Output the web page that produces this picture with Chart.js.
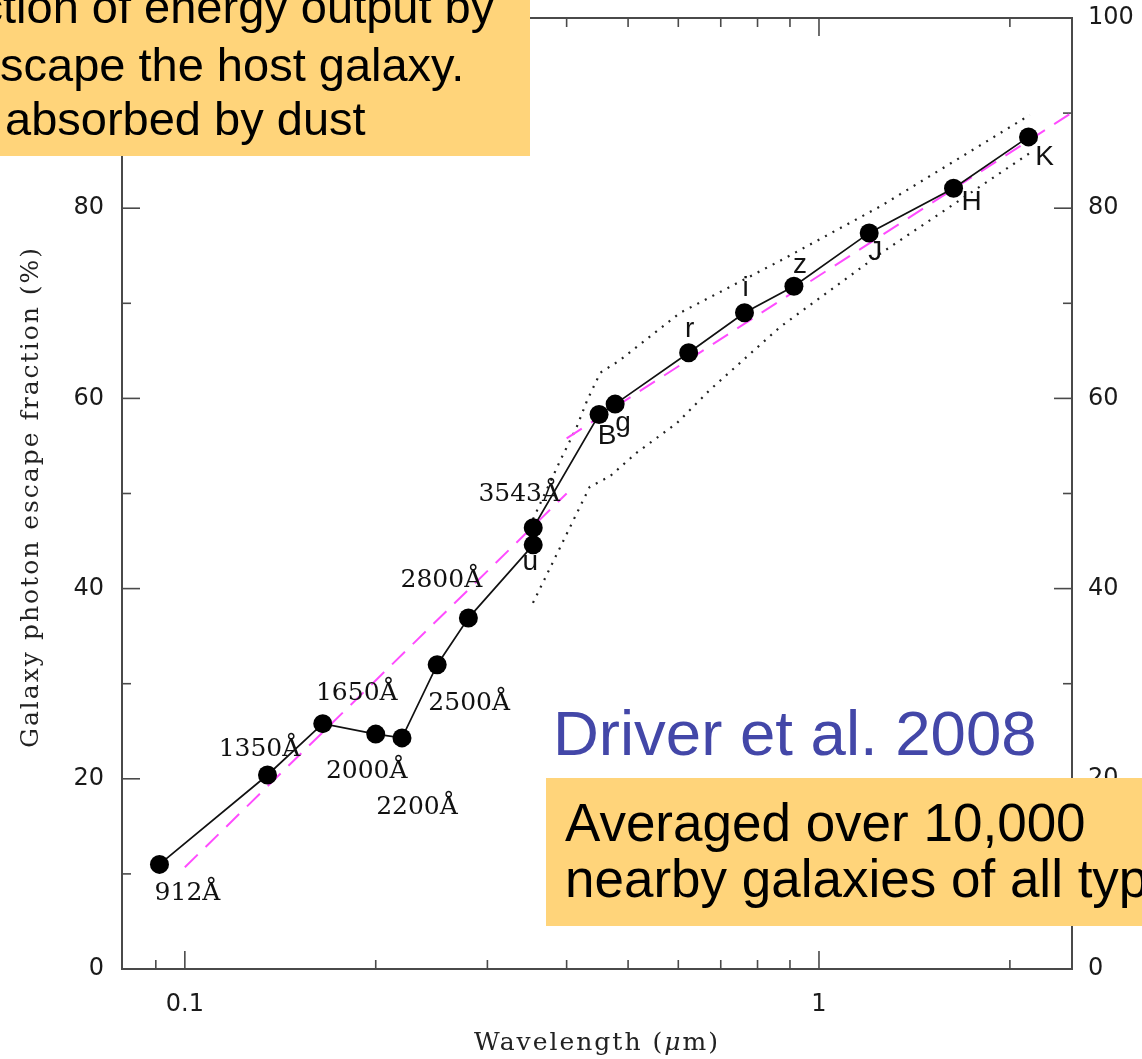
<!DOCTYPE html>
<html>
<head>
<meta charset="utf-8">
<script src="https://cdn.jsdelivr.net/npm/chart.js@4.4.0/dist/chart.umd.min.js"></script>
<style>
  html, body { margin: 0; padding: 0; background: #fff; }
  canvas { display: block; }
</style>
</head>
<body>
<canvas id="escape" width="1142" height="1059"></canvas>
<script>
// measured points: wavelength (micron) and escape fraction (%)
const wavelengths = [0.0912, 0.135, 0.165, 0.200, 0.220, 0.250, 0.280, 0.3543, 0.3543, 0.450, 0.477, 0.623, 0.763, 0.913, 1.20, 1.63, 2.14];
const escapeFraction = [11.0, 20.4, 25.8, 24.7, 24.3, 32.0, 36.9, 44.6, 46.4, 58.3, 59.4, 64.8, 69.0, 71.8, 77.4, 82.1, 87.5];
const pointLabels = ['912Å', '1350Å', '1650Å', '2000Å', '2200Å', '2500Å', '2800Å', 'u', '3543Å', 'B', 'g', 'r', 'i', 'z', 'J', 'H', 'K'];

// magenta dashed model, UV piece and optical/NIR piece
const modelUvX = [0.1, 0.4];
const modelUvY = [10.7, 50.0];
const modelOptX = [0.4, 2.5];
const modelOptY = [55.8, 90.0];

// dotted envelope
const upperX = [0.354, 0.391, 0.415, 0.431, 0.452, 0.485, 0.604, 0.87, 1.25, 2.15];
const upperY = [47.3, 53.5, 57.0, 59.8, 62.7, 64.0, 69.0, 74.5, 80.2, 89.8];
const lowerX = [0.354, 0.435, 0.468, 0.516, 0.597, 0.673, 0.868, 1.248, 2.15];
const lowerY = [38.5, 50.7, 51.8, 54.3, 57.4, 60.9, 67.5, 75.2, 85.8];

// axis ticks
const xTicksMajor = [0.1, 1];
const xTicksMinor = [0.09, 0.2, 0.3, 0.4, 0.5, 0.6, 0.7, 0.8, 0.9, 2];
const yTicksMajor = [0, 20, 40, 60, 80, 100];
const yTicksMinor = [10, 30, 50, 70, 90];

// label offsets from each point (px), kept apart from the data
const labelOffsets = [[28, 29], [-8, -25], [34, -30], [-9, 37], [15, 70], [32, 39], [-27, -38], [-3, 17],
  [-14, -33], [8, 22], [8, 19], [1, -23], [1, -25], [6, -21], [6, 19], [18, 14], [16, 20]];

const pts = (xs, ys) => xs.map((x, i) => ({ x: x, y: ys[i] }));

const SERIF = '"DejaVu Serif", serif';
const SANS = '"Liberation Sans", Arial, sans-serif';
const TICKFONT = '"DejaVu Sans", sans-serif';

// box, inward ticks and axis titles
const framePlugin = {
  id: 'frame',
  beforeDatasetsDraw(chart) {
    const { ctx, chartArea: a, scales: { x, y } } = chart;
    ctx.save();
    ctx.strokeStyle = '#4a4a4a';
    ctx.lineWidth = 2;
    ctx.strokeRect(a.left, a.top, a.right - a.left, a.bottom - a.top);
    ctx.lineWidth = 1.6;
    const seg = (x1, y1, x2, y2) => { ctx.beginPath(); ctx.moveTo(x1, y1); ctx.lineTo(x2, y2); ctx.stroke(); };
    const xt = (v, len) => { const p = x.getPixelForValue(v); seg(p, a.bottom, p, a.bottom - len); seg(p, a.top, p, a.top + len); };
    const yt = (v, len) => { const p = y.getPixelForValue(v); seg(a.left, p, a.left + len, p); seg(a.right, p, a.right - len, p); };
    xTicksMajor.forEach(v => xt(v, 18));
    xTicksMinor.forEach(v => xt(v, 9));
    yTicksMajor.forEach(v => yt(v, 18));
    yTicksMinor.forEach(v => yt(v, 9));

    ctx.fillStyle = '#222';
    ctx.textBaseline = 'middle';
    ctx.letterSpacing = '2px';
    const F = '25px ' + SERIF, FI = 'italic 25px ' + SERIF;
    // x title with italic mu
    const t1 = 'Wavelength (', t2 = 'μ', t3 = 'm)';
    ctx.font = F;
    const w1 = ctx.measureText(t1).width;
    const w3 = ctx.measureText(t3).width;
    ctx.font = FI;
    const w2 = ctx.measureText(t2).width;
    const sx = 597 - (w1 + w2 + w3) / 2;
    ctx.textAlign = 'left';
    ctx.font = F;
    ctx.fillText(t1, sx, 1043);
    ctx.fillText(t3, sx + w1 + w2, 1043);
    ctx.font = FI;
    ctx.fillText(t2, sx + w1, 1043);
    // y title
    ctx.font = F;
    ctx.translate(31, 497);
    ctx.rotate(-Math.PI / 2);
    ctx.textAlign = 'center';
    ctx.fillText('Galaxy photon escape fraction (%)', 0, 0);
    ctx.restore();
  }
};

// point labels
const labelPlugin = {
  id: 'pointLabels',
  afterDatasetsDraw(chart) {
    const { ctx } = chart;
    const meta = chart.getDatasetMeta(0);
    ctx.save();
    ctx.textAlign = 'center';
    ctx.textBaseline = 'middle';
    ctx.fillStyle = '#111';
    meta.data.forEach((el, i) => {
      const txt = pointLabels[i];
      ctx.font = txt.length > 1 ? '25px ' + SERIF : '28px ' + SANS;
      ctx.fillText(txt, el.x + labelOffsets[i][0], el.y + labelOffsets[i][1]);
    });
    ctx.restore();
  }
};

// slide overlays
const overlayPlugin = {
  id: 'overlay',
  afterDraw(chart) {
    const { ctx } = chart;
    ctx.save();
    ctx.textAlign = 'left';
    ctx.textBaseline = 'alphabetic';

    ctx.fillStyle = '#4347a8';
    ctx.font = '63.5px ' + SANS;
    ctx.fillText('Driver et al. 2008', 553, 755);

    ctx.fillStyle = '#ffd47a';
    ctx.fillRect(0, 0, 530, 156);
    ctx.fillRect(546, 778, 596, 148);

    ctx.fillStyle = '#000';
    ctx.font = '47px ' + SANS;
    ctx.fillText('Fraction of energy output by', 3 - ctx.measureText('Frac').width, 23);
    ctx.fillText('escape the host galaxy.', 0 - ctx.measureText('e').width, 81);
    ctx.fillText('absorbed by dust', 5, 135);

    ctx.font = '53px ' + SANS;
    ctx.fillText('Averaged over 10,000', 565, 841);
    ctx.fillText('nearby galaxies of all types', 565, 897);
    ctx.restore();
  }
};

const noPadV = s => { s.paddingTop = 0; s.paddingBottom = 0; };
const tickFont = { family: TICKFONT, size: 24 };
const ctx = document.getElementById('escape').getContext('2d');
new Chart(ctx, {
  type: 'line',
  data: {
    datasets: [
      {
        data: pts(wavelengths, escapeFraction),
        borderColor: '#111',
        borderWidth: 1.7,
        pointRadius: 9.5,
        pointBackgroundColor: '#000',
        pointBorderWidth: 0,
        tension: 0
      },
      {
        data: pts(modelUvX, modelUvY),
        borderColor: '#ff4cff',
        borderWidth: 2,
        borderDash: [18, 11],
        pointRadius: 0
      },
      {
        data: pts(modelOptX, modelOptY),
        borderColor: '#ff4cff',
        borderWidth: 2,
        borderDash: [18, 11],
        pointRadius: 0
      },
      {
        data: pts(upperX, upperY),
        borderColor: '#222',
        borderWidth: 2.2,
        borderDash: [2, 6.5],
        pointRadius: 0
      },
      {
        data: pts(lowerX, lowerY),
        borderColor: '#222',
        borderWidth: 2.2,
        borderDash: [2, 6.5],
        pointRadius: 0
      }
    ]
  },
  options: {
    responsive: false,
    animation: false,
    layout: { padding: { top: 18, left: 0, right: 0, bottom: 0 } },
    plugins: { legend: { display: false }, tooltip: { enabled: false } },
    scales: {
      x: {
        type: 'logarithmic',
        min: 0.0796,
        max: 2.506,
        grid: { display: false, drawTicks: false },
        border: { display: false },
        afterBuildTicks: s => { s.ticks = xTicksMajor.map(v => ({ value: v })); },
        afterFit: s => { s.height = 90; s.paddingLeft = 0; s.paddingRight = 0; },
        ticks: {
          padding: 21,
          autoSkip: false,
          maxRotation: 0,
          color: '#1a1a1a',
          font: tickFont,
          callback: v => String(v)
        }
      },
      y: {
        min: 0,
        max: 100,
        grid: { display: false, drawTicks: false },
        border: { display: false },
        afterFit: s => { s.width = 122; noPadV(s); },
        ticks: { stepSize: 20, padding: 18, color: '#1a1a1a', font: tickFont }
      },
      y2: {
        position: 'right',
        min: 0,
        max: 100,
        grid: { display: false, drawTicks: false },
        border: { display: false },
        afterFit: s => { s.width = 70; noPadV(s); },
        ticks: { stepSize: 20, padding: 16, color: '#1a1a1a', font: tickFont }
      }
    }
  },
  plugins: [framePlugin, labelPlugin, overlayPlugin]
});
</script>
</body>
</html>
